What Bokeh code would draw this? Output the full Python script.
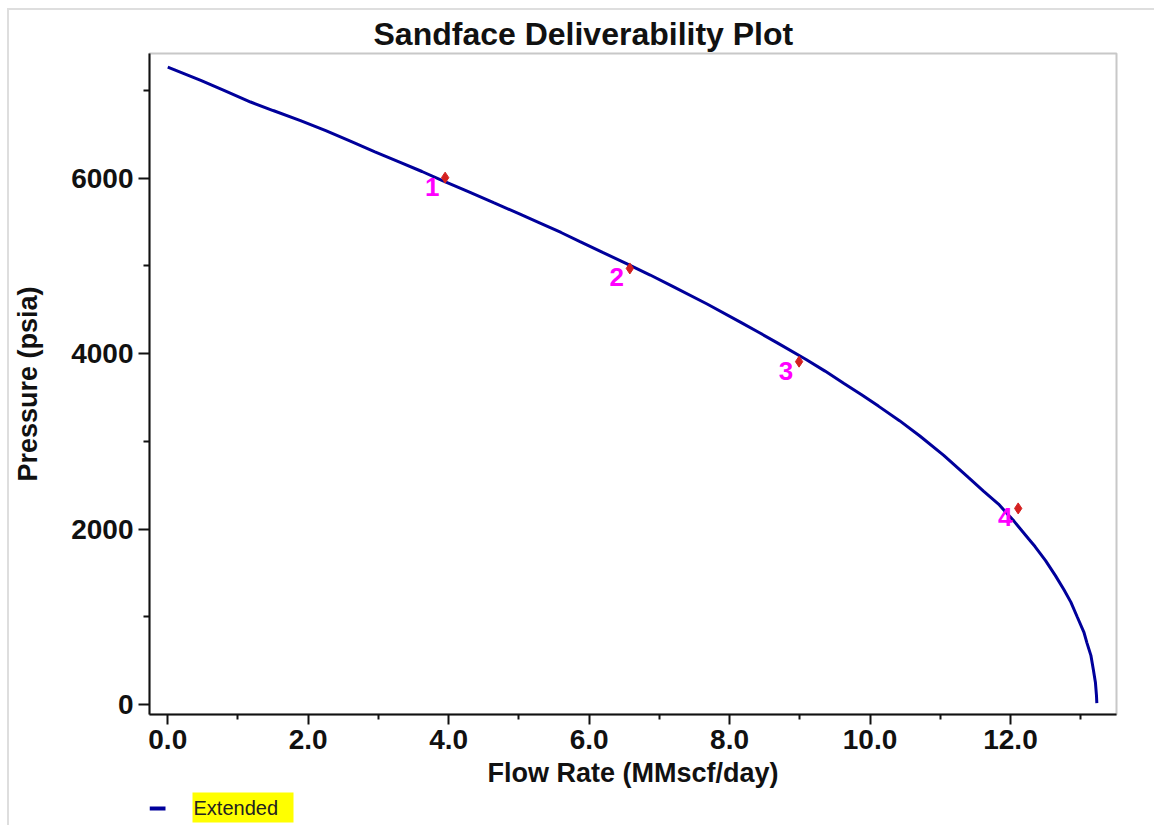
from bokeh.plotting import figure
from bokeh.layouts import column
from bokeh.models import Range1d, FixedTicker, LabelSet, PrintfTickFormatter, ColumnDataSource
from bokeh.core.properties import value
from bokeh.embed import file_html
from bokeh.resources import INLINE

# Deliverability curve
curve_q = [0.00, 0.47, 0.80, 1.18, 1.50, 1.89, 2.25, 2.60, 2.95, 3.31, 3.62, 3.92,
           4.28, 4.64, 5.00, 5.31, 5.60, 5.87, 6.20, 6.54, 6.87, 7.19, 7.68, 8.16,
           8.42, 8.68, 9.09, 9.36, 9.63, 9.88, 10.12, 10.42, 10.71, 11.05, 11.40,
           11.62, 11.83, 12.05, 12.26, 12.35, 12.50, 12.64, 12.76, 12.86, 12.95,
           13.045, 13.09, 13.145, 13.18, 13.21, 13.225, 13.23]
curve_p = [7265, 7114, 7000, 6867, 6770, 6655, 6540, 6420, 6300, 6180, 6075, 5968,
           5845, 5719, 5595, 5485, 5380, 5276, 5150, 5023, 4895, 4765, 4565, 4356,
           4240, 4122, 3932, 3800, 3659, 3530, 3401, 3235, 3060, 2840, 2588,
           2430, 2284, 2090, 1886, 1800, 1640, 1469, 1310, 1167, 1000,
           826, 700, 560, 400, 250, 100, 15]

# Test points
test_q = [3.95, 6.58, 8.99, 12.11]
test_p = [6005, 4970, 3908, 2235]
test_labels = ["1", "2", "3", "4"]

x_ticks = [0, 2, 4, 6, 8, 10, 12]
x_minor_ticks = [1, 3, 5, 7, 9, 11, 13]
y_ticks = [0, 2000, 4000, 6000]
y_minor_ticks = [1000, 3000, 5000, 7000]

legend_label = "Extended"

FONT = "Liberation Sans"
CURVE = "#00009b"

p = figure(width=1145, height=780, output_backend="svg", toolbar_location=None,
           x_range=Range1d(-0.26, 13.51), y_range=Range1d(-114, 7420),
           min_border_left=140, min_border_right=38, min_border_top=43, min_border_bottom=74)
p.title.text = "Sandface Deliverability Plot"
p.title.align = "left"
p.title.offset = 224
p.title.standoff = 3
p.title.text_font = FONT
p.title.text_font_style = "bold"
p.title.text_font_size = "32px"
p.title.text_color = "#111111"
p.xgrid.visible = False
p.ygrid.visible = False
p.outline_line_color = "#c8c8c8"
p.outline_line_width = 2
p.background_fill_color = "white"
p.border_fill_color = "white"

for ax in (p.xaxis[0], p.yaxis[0]):
    ax.axis_line_color = "#111111"
    ax.axis_line_width = 2
    ax.major_tick_line_color = "#111111"
    ax.major_tick_line_width = 2
    ax.minor_tick_line_color = "#111111"
    ax.minor_tick_line_width = 2
    ax.major_tick_in = 0
    ax.minor_tick_in = 0
    ax.major_label_text_font = FONT
    ax.major_label_text_font_style = "bold"
    ax.major_label_text_font_size = "28px"
    ax.major_label_text_color = "#111111"
    ax.axis_label_text_font = FONT
    ax.axis_label_text_font_style = "bold"
    ax.axis_label_text_font_size = "27px"
    ax.axis_label_text_color = "#111111"

p.xaxis.ticker = FixedTicker(ticks=x_ticks, minor_ticks=x_minor_ticks)
p.yaxis.ticker = FixedTicker(ticks=y_ticks, minor_ticks=y_minor_ticks)
p.xaxis.formatter = PrintfTickFormatter(format="%.1f")
p.xaxis.major_tick_out = 10
p.xaxis.minor_tick_out = 5
p.yaxis.major_tick_out = 11
p.yaxis.minor_tick_out = 6
p.xaxis.major_label_standoff = 5
p.yaxis.major_label_standoff = 5
p.xaxis.axis_label = "Flow Rate (MMscf/day)"
p.yaxis.axis_label = "Pressure (psia)"
p.xaxis.axis_label_standoff = 6
p.yaxis.axis_label_standoff = 25

p.line(curve_q, curve_p, line_color=CURVE, line_width=3)

src = ColumnDataSource(dict(q=test_q, p=test_p, t=test_labels))
p.scatter("q", "p", source=src, marker="diamond", size=11, fill_color="#d42020", line_color="#d42020")
p.add_layout(LabelSet(x="q", y="p", text="t", source=src, x_offset=-13, y_offset=-9,
                      text_align="center", text_baseline="middle", text_color="#ff00ff",
                      text_font=value(FONT), text_font_style="bold", text_font_size="26px"))

# Legend strip below the chart (its frame is aligned with the main frame, x in page pixels)
leg = figure(width=1145, height=35, output_backend="svg", toolbar_location=None,
             x_range=Range1d(149, 1116), y_range=Range1d(35, 0),
             x_axis_location=None, y_axis_location=None, min_border=0)
leg.xgrid.visible = False
leg.ygrid.visible = False
leg.outline_line_color = None
leg.border_fill_color = "white"
leg.quad(left=[149], right=[165], top=[16], bottom=[20], fill_color=CURVE, line_color=None)
leg.quad(left=[192], right=[293], top=[2], bottom=[32], fill_color="#ffff00", line_color=None)
leg.text(x=[193], y=[17], text=[legend_label], text_align="left", text_baseline="middle",
         text_font=value(FONT), text_font_size="20px", text_color="#222222")

layout = column(p, leg, spacing=0, margin=(8, 0, 0, 7),
                styles={"border-top": "2px solid #dedede", "border-left": "2px solid #dedede"})

open("out.html", "w").write(file_html(layout, INLINE))
